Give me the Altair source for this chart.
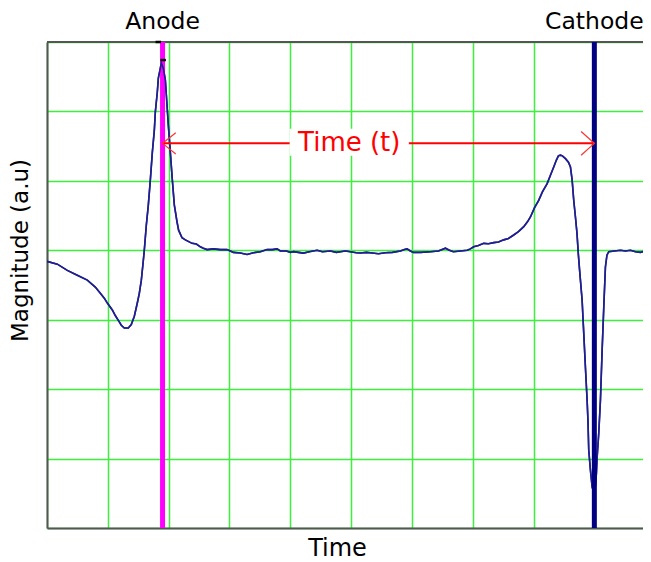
import altair as alt
import pandas as pd

# Signal trace (time in samples, magnitude in grid divisions, baseline = 0)
time_samples = [0, 17, 33.4, 49.8, 66.3, 79.4, 87.7, 94.2, 99.2, 107.4, 112.3, 117.3, 122.2, 127.1,
                133.7, 138.6, 143.6, 148.5, 151.8, 155.1, 157.9, 160, 163.3, 166.6, 169.9, 173.2,
                176.5, 178.1, 181.4, 183.1, 186.3, 188, 191.3, 194.6, 196.2, 199.5, 202.8, 206.1,
                209.4, 213.8, 216.4, 222, 227.5, 238.5, 245.6, 252.1, 257.1, 263.2, 273.5, 285,
                296, 301.5, 306.4, 317.9, 329, 339.3, 350.8, 361.8, 370.6, 378.3, 383.7, 393.6,
                400.2, 405.6, 413.3, 421.5, 431.4, 444.1, 452.8, 466, 475.8, 482.4, 490.6, 498.8,
                508.7, 515.3, 525.2, 535, 544.9, 556.4, 567.9, 581.1, 587.7, 592.1, 597.5, 602.5,
                614, 630.4, 643.6, 655.1, 661.7, 668.2, 679.8, 690.8, 696.2, 701.6, 709.4, 718.1,
                725.8, 734.5, 742.3, 751, 758.7, 767.4, 775.2, 783.9, 790, 794.9, 801.5, 808.5,
                814.6, 822.4, 827.8, 833.2, 837.6, 840.9, 844.2, 847.5, 852.5, 857.4, 860.7,
                863.5, 866.1, 868.9, 871.4, 873.8, 875.5, 879.9, 882.6, 885.3, 888.1, 889.5,
                890.8, 893.6, 896.4, 899.3, 901.8, 903.4, 904.6, 907.2, 910, 912.8, 915.5, 918.2,
                920.7, 923.7, 933, 942.9, 951.1, 959.3, 967.6, 975.8, 984, 992.2]
magnitude = [-0.16, -0.20, -0.29, -0.36, -0.43, -0.53, -0.62, -0.69, -0.76, -0.86, -0.94, -1.01,
             -1.08, -1.12, -1.12, -1.07, -0.95, -0.76, -0.62, -0.43, -0.19, 0.0, 0.36, 0.65, 1.01,
             1.41, 1.73, 1.99, 2.28, 2.48, 2.62, 2.70, 2.62, 2.45, 2.24, 1.80, 1.41, 1.01, 0.65,
             0.41, 0.29, 0.18, 0.15, 0.10, 0.09, 0.05, 0.03, 0.01, 0.02, 0.01, 0.01, -0.01, -0.03,
             -0.04, -0.06, -0.035, -0.02, 0.01, 0.01, 0.02, -0.01, -0.01, -0.03, -0.02, -0.03,
             -0.04, -0.02, 0.0, -0.02, -0.01, -0.03, -0.02, -0.01, -0.02, -0.035, -0.04, -0.03,
             -0.04, -0.05, -0.035, -0.03, -0.01, 0.01, 0.02, -0.01, -0.03, -0.03, -0.02, -0.01,
             0.03, 0.0, -0.02, -0.01, 0.0, 0.02, 0.05, 0.07, 0.10, 0.095, 0.11, 0.12, 0.15, 0.17,
             0.22, 0.27, 0.34, 0.41, 0.48, 0.61, 0.72, 0.84, 0.96, 1.08, 1.20, 1.30, 1.36, 1.37,
             1.36, 1.32, 1.27, 1.20, 1.01, 0.72, 0.48, 0.25, -0.07, -0.26, -0.72, -1.20, -1.68,
             -2.16, -2.45, -2.88, -3.17, -3.41, -3.49, -3.39, -3.21, -2.98, -2.64, -2.16, -1.44,
             -0.82, -0.24, -0.07, -0.02, -0.01, 0.0, -0.01, 0.0, -0.02, -0.03, -0.01, 0.0]

# Markers and annotation values
marker_names = ["Anode", "Cathode"]
marker_times = [190, 900]
marker_colors = ["#ff00ff", "#000080"]
arrow_level = 1.54
arrow_label = "Time (t)"
label_box_t = [399, 595]
label_box_m = [1.36, 1.75]
dash_times = [183, 191]
dash_mags = [3.0, 2.74]

t_domain = [0, 980]
m_domain = [-4, 3]
t_grid = [0, 100, 200, 300, 400, 500, 600, 700, 800, 900]
m_grid = [-4, -3, -2, -1, 0, 1, 2, 3]

FONT = "DejaVu Sans"
GRID = "#3cf03c"
AXIS = "#555555"

sig = pd.DataFrame({"t": time_samples, "m": magnitude})
marks = pd.DataFrame({"name": marker_names, "t": marker_times, "color": marker_colors})
arrow = pd.DataFrame({"t": [marker_times[0]], "t2": [marker_times[1]], "m": [arrow_level],
                      "tc": [(label_box_t[0] + label_box_t[1]) / 2], "label": [arrow_label],
                      "bx": [label_box_t[0]], "bx2": [label_box_t[1]],
                      "by": [label_box_m[0]], "by2": [label_box_m[1]]})
tips = pd.DataFrame({"t": marker_times, "m": [arrow_level, arrow_level],
                     "dir": ["left", "right"]})
dashes = pd.DataFrame({"t": dash_times, "m": dash_mags})

xs = alt.Scale(domain=t_domain, nice=False, zero=False)
ys = alt.Scale(domain=m_domain, nice=False, zero=False)

x_axis = alt.Axis(values=t_grid, labels=False, ticks=False, grid=True, gridColor=GRID,
                  gridWidth=1.5, gridOpacity=1, domainColor=AXIS, domainWidth=2,
                  title="Time", titleFont=FONT, titleFontSize=24, titleFontWeight="normal",
                  titleColor="black", titleX=290, titleY=20, titleAlign="center",
                  titleBaseline="middle")
y_axis = alt.Axis(values=m_grid, labels=False, ticks=False, grid=True, gridColor=GRID,
                  gridWidth=1.5, gridOpacity=1, domainColor=AXIS, domainWidth=2,
                  title="Magnitude (a.u)", titleFont=FONT, titleFontSize=23,
                  titleFontWeight="normal", titleColor="black", titleX=-27, titleY=208,
                  titleAlign="center", titleBaseline="middle", titleAngle=270)

base_sig = alt.Chart(sig).mark_line(color="#1f1f8f", strokeWidth=1.6, clip=True).encode(
    x=alt.X("t:Q", scale=xs, axis=x_axis),
    y=alt.Y("m:Q", scale=ys, axis=y_axis),
)

top_border = alt.Chart(sig).mark_rule(color=AXIS, strokeWidth=2).encode(
    y=alt.datum(m_domain[1], scale=ys)
)

anode_rule = alt.Chart(marks.iloc[[0]]).mark_rule(color=marker_colors[0], strokeWidth=5).encode(
    x=alt.X("t:Q", scale=xs), y=alt.datum(m_domain[0]), y2=alt.datum(m_domain[1])
)
cathode_rule = alt.Chart(marks.iloc[[1]]).mark_rule(color=marker_colors[1], strokeWidth=5).encode(
    x=alt.X("t:Q", scale=xs), y=alt.datum(m_domain[0]), y2=alt.datum(m_domain[1])
)

marker_text = alt.Chart(marks).mark_text(font=FONT, fontSize=23.5, color="black",
                                          baseline="middle", dy=-20).encode(
    x=alt.X("t:Q", scale=xs), y=alt.datum(m_domain[1]), text="name:N"
)

arrow_line = alt.Chart(arrow).mark_rule(color="#ff0000", strokeWidth=2).encode(
    x=alt.X("t:Q", scale=xs), x2="t2:Q", y=alt.Y("m:Q", scale=ys)
)
label_box = alt.Chart(arrow).mark_rect(color="white").encode(
    x=alt.X("bx:Q", scale=xs), x2="bx2:Q", y=alt.Y("by:Q", scale=ys), y2="by2:Q"
)
arrow_text = alt.Chart(arrow).mark_text(font=FONT, fontSize=26, color="#ff0000",
                                        baseline="middle", align="center").encode(
    x=alt.X("tc:Q", scale=xs), y=alt.Y("m:Q", scale=ys), text="label:N"
)
tip_left = alt.Chart(tips.iloc[[0]]).mark_point(shape="M1,-0.8L0,0L1,0.8", size=700,
                                                 filled=False, color="#ff3030",
                                                 strokeWidth=1.2, opacity=1).encode(
    x=alt.X("t:Q", scale=xs), y=alt.Y("m:Q", scale=ys)
)
tip_right = alt.Chart(tips.iloc[[1]]).mark_point(shape="M-1,-0.9L0,0L-1,0.9", size=700,
                                                  filled=False, color="#ff3030",
                                                  strokeWidth=1.2, opacity=1).encode(
    x=alt.X("t:Q", scale=xs), y=alt.Y("m:Q", scale=ys)
)
dash_marks = alt.Chart(dashes).mark_point(shape="M-1,0L1,0", size=30, filled=False,
                                          color="black", strokeWidth=2.5, opacity=1).encode(
    x=alt.X("t:Q", scale=xs), y=alt.Y("m:Q", scale=ys)
)

chart = alt.layer(
    base_sig, top_border, anode_rule, base_sig, cathode_rule, dash_marks,
    arrow_line, tip_left, tip_right, label_box, arrow_text, marker_text
).properties(
    width=596, height=486,
    autosize=alt.AutoSizeParams(type="none"),
    padding={"left": 39, "top": 34, "right": 0, "bottom": 34},
    background="white",
).configure_view(stroke=None)

chart.save("out.html", embed_options={"renderer": "svg", "actions": False})
